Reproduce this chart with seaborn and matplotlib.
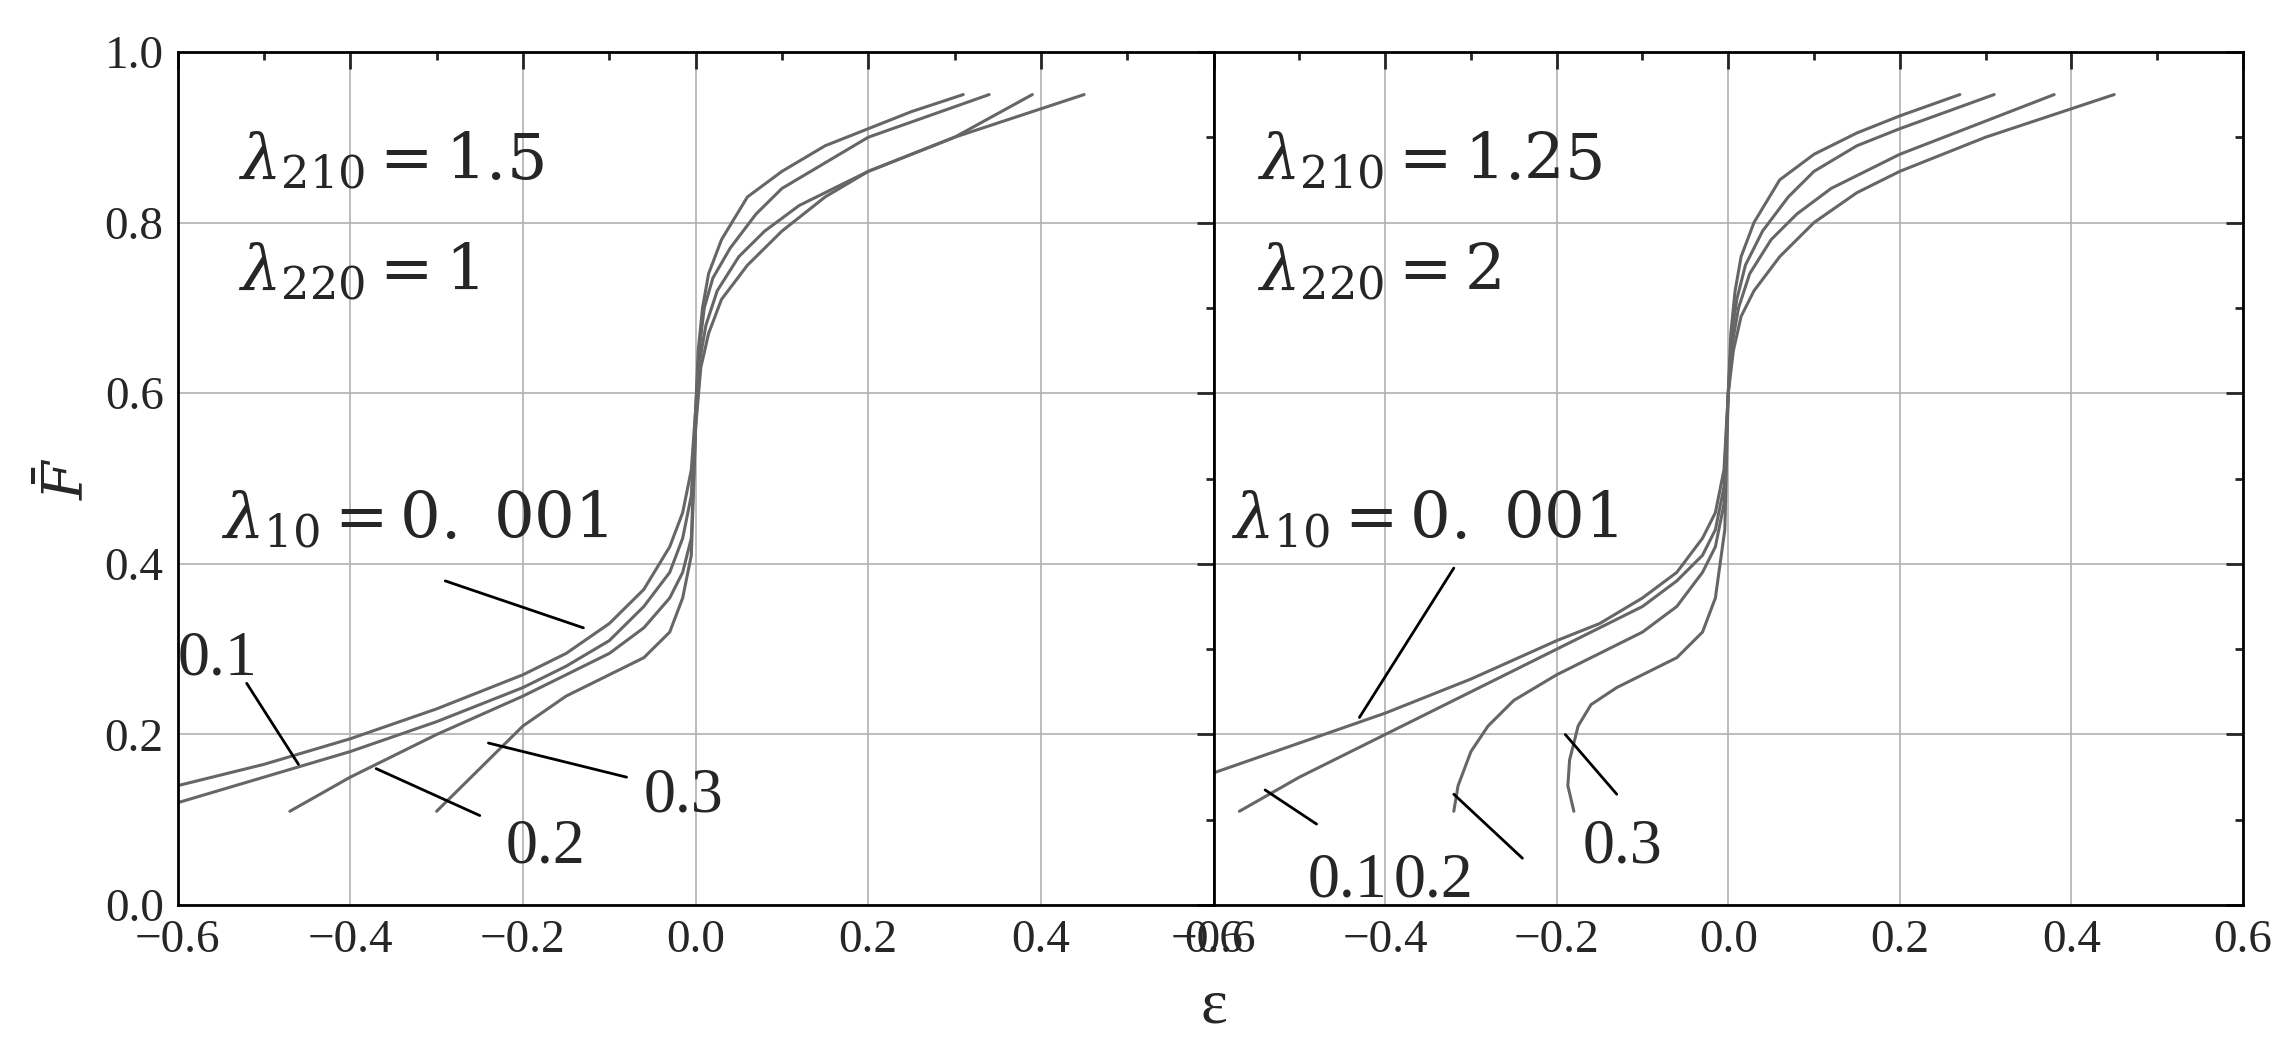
import matplotlib
matplotlib.use("Agg")
import matplotlib.pyplot as plt
import seaborn as sns
import pandas as pd
from matplotlib.ticker import MultipleLocator

sns.set_theme(style="white")
plt.rcParams['font.family'] = ['Liberation Serif', 'DejaVu Serif']
plt.rcParams['mathtext.fontset'] = 'dejavuserif'

lam10 = ["0.001", "0.1", "0.2", "0.3"]

# Left panel (λ210=1.5, λ220=1)
L_x = {
 "0.001": [-0.6,-0.5,-0.4,-0.3,-0.2,-0.15,-0.1,-0.06,-0.03,-0.015,-0.005,0,0.003,0.008,0.015,0.03,0.06,0.1,0.15,0.2,0.25,0.31],
 "0.1":   [-0.6,-0.5,-0.4,-0.3,-0.2,-0.15,-0.1,-0.06,-0.03,-0.015,-0.005,0,0.004,0.01,0.02,0.04,0.07,0.1,0.15,0.2,0.27,0.34],
 "0.2":   [-0.47,-0.4,-0.3,-0.2,-0.15,-0.1,-0.06,-0.03,-0.015,-0.005,0,0.005,0.012,0.025,0.05,0.08,0.12,0.2,0.3,0.39],
 "0.3":   [-0.3,-0.25,-0.2,-0.15,-0.1,-0.06,-0.03,-0.015,-0.005,0,0.006,0.015,0.03,0.06,0.1,0.15,0.2,0.3,0.45],
}
L_y = {
 "0.001": [0.14,0.165,0.195,0.23,0.27,0.295,0.33,0.37,0.42,0.46,0.51,0.58,0.65,0.7,0.74,0.78,0.83,0.86,0.89,0.91,0.93,0.95],
 "0.1":   [0.12,0.15,0.18,0.215,0.255,0.28,0.31,0.35,0.39,0.43,0.48,0.58,0.65,0.7,0.735,0.77,0.81,0.84,0.87,0.9,0.925,0.95],
 "0.2":   [0.11,0.15,0.2,0.245,0.27,0.295,0.325,0.36,0.39,0.43,0.56,0.64,0.68,0.72,0.76,0.79,0.82,0.86,0.9,0.95],
 "0.3":   [0.11,0.16,0.21,0.245,0.27,0.29,0.32,0.36,0.41,0.56,0.63,0.67,0.71,0.75,0.79,0.83,0.86,0.9,0.95],
}
# Right panel (λ210=1.25, λ220=2)
R_x = {
 "0.001": [-0.6,-0.5,-0.4,-0.3,-0.2,-0.15,-0.1,-0.06,-0.03,-0.015,-0.005,0,0.003,0.008,0.015,0.03,0.06,0.1,0.15,0.2,0.27],
 "0.1":   [-0.57,-0.5,-0.4,-0.3,-0.2,-0.15,-0.1,-0.06,-0.03,-0.015,-0.005,0,0.004,0.01,0.02,0.04,0.07,0.1,0.15,0.2,0.31],
 "0.2":   [-0.32,-0.315,-0.3,-0.28,-0.25,-0.2,-0.15,-0.1,-0.06,-0.03,-0.015,-0.005,0,0.005,0.012,0.025,0.05,0.08,0.12,0.2,0.29,0.38],
 "0.3":   [-0.18,-0.187,-0.185,-0.175,-0.16,-0.13,-0.1,-0.06,-0.03,-0.015,-0.004,0,0.006,0.015,0.03,0.06,0.1,0.15,0.2,0.3,0.45],
}
R_y = {
 "0.001": [0.155,0.19,0.225,0.265,0.31,0.33,0.36,0.39,0.43,0.46,0.51,0.6,0.67,0.72,0.76,0.8,0.85,0.88,0.905,0.925,0.95],
 "0.1":   [0.11,0.15,0.2,0.25,0.3,0.325,0.35,0.38,0.41,0.44,0.49,0.6,0.67,0.71,0.75,0.79,0.83,0.86,0.89,0.91,0.95],
 "0.2":   [0.11,0.14,0.18,0.21,0.24,0.27,0.295,0.32,0.35,0.39,0.42,0.47,0.6,0.66,0.7,0.74,0.78,0.81,0.84,0.88,0.915,0.95],
 "0.3":   [0.11,0.14,0.17,0.21,0.235,0.255,0.27,0.29,0.32,0.36,0.44,0.6,0.65,0.69,0.72,0.76,0.8,0.835,0.86,0.9,0.95],
}

fig = plt.figure(figsize=(22.77, 10.38), dpi=100)
axL = fig.add_axes([0.078, 0.128, 0.455, 0.822])
axR = fig.add_axes([0.533, 0.128, 0.452, 0.822], sharey=axL)

def draw(ax, X, Y):
    for k in lam10:
        df = pd.DataFrame({"x": X[k], "y": Y[k]})
        sns.lineplot(data=df, x="x", y="y", ax=ax, sort=False, color="#666666", lw=2.2, estimator=None)
    ax.set_xlim(-0.6, 0.6); ax.set_ylim(0, 1.0)
    ax.xaxis.set_major_locator(MultipleLocator(0.2)); ax.xaxis.set_minor_locator(MultipleLocator(0.1))
    ax.yaxis.set_major_locator(MultipleLocator(0.2)); ax.yaxis.set_minor_locator(MultipleLocator(0.1))
    ax.grid(True, which="major", color="#b0b0b0", lw=1.2)
    ax.tick_params(which="both", direction="in", top=True, right=True, labelsize=34, width=2)
    ax.tick_params(which="major", length=12, pad=10); ax.tick_params(which="minor", length=6)
    for s in ax.spines.values():
        s.set_color("black"); s.set_linewidth(2)
    ax.set_xlabel(""); ax.set_ylabel("")
    ax.set_xticklabels([f"{v:.1f}".replace("-", "\u2212") for v in ax.get_xticks()])

draw(axL, L_x, L_y)
draw(axR, R_x, R_y)
axL.set_yticklabels([f"{v:.1f}" for v in axL.get_yticks()])
axR.tick_params(labelleft=False)

fs = 46
kw = dict(arrowprops=dict(arrowstyle="-", color="black", lw=2, shrinkA=0, shrinkB=0))
axL.text(-0.53, 0.85, r"$\lambda_{210}=1.5$", fontsize=fs)
axL.text(-0.53, 0.72, r"$\lambda_{220}=1$", fontsize=fs)
axL.text(-0.55, 0.43, r"$\lambda_{10}=0.\ 001$", fontsize=fs)
axL.annotate("", xy=(-0.13, 0.325), xytext=(-0.29, 0.38), **kw)
axL.text(-0.6, 0.27, "0.1", fontsize=fs)
axL.annotate("", xy=(-0.46, 0.165), xytext=(-0.52, 0.26), **kw)
axL.text(-0.22, 0.05, "0.2", fontsize=fs)
axL.annotate("", xy=(-0.37, 0.16), xytext=(-0.25, 0.105), **kw)
axL.text(-0.06, 0.11, "0.3", fontsize=fs)
axL.annotate("", xy=(-0.24, 0.19), xytext=(-0.08, 0.15), **kw)

axR.text(-0.55, 0.85, r"$\lambda_{210}=1.25$", fontsize=fs)
axR.text(-0.55, 0.72, r"$\lambda_{220}=2$", fontsize=fs)
axR.text(-0.58, 0.43, r"$\lambda_{10}=0.\ 001$", fontsize=fs)
axR.annotate("", xy=(-0.43, 0.22), xytext=(-0.32, 0.395), **kw)
axR.text(-0.49, 0.01, "0.1", fontsize=fs)
axR.annotate("", xy=(-0.54, 0.135), xytext=(-0.48, 0.095), **kw)
axR.text(-0.39, 0.01, "0.2", fontsize=fs)
axR.annotate("", xy=(-0.32, 0.13), xytext=(-0.24, 0.055), **kw)
axR.text(-0.17, 0.05, "0.3", fontsize=fs)
axR.annotate("", xy=(-0.19, 0.2), xytext=(-0.13, 0.13), **kw)

fig.text(0.533, 0.015, "ε", fontsize=46, ha="center")
axL.set_ylabel(r"$\bar{F}$", fontsize=40, labelpad=6)

fig.savefig("out.png", dpi=100)
